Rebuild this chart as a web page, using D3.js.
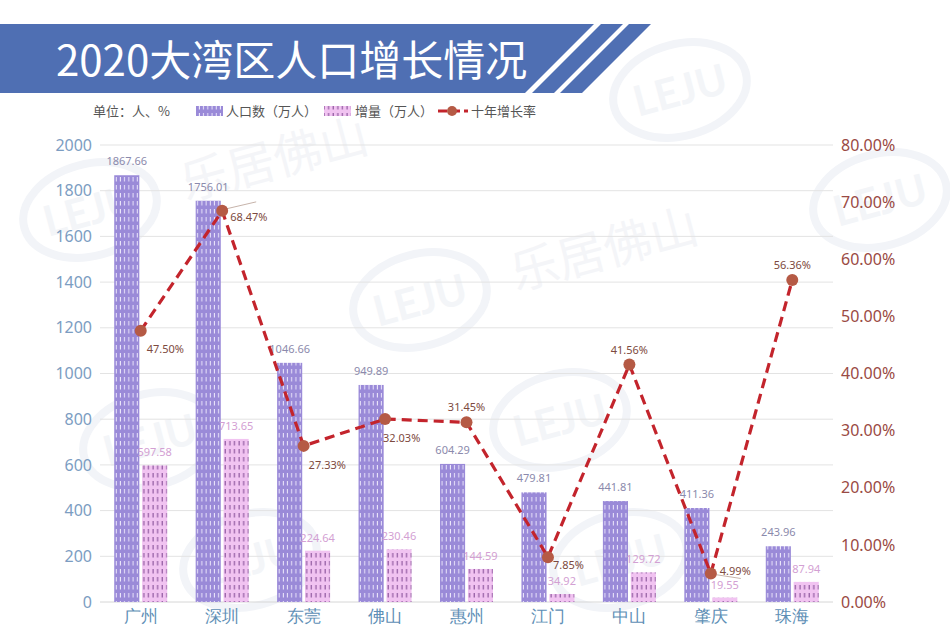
<!DOCTYPE html>
<html><head><meta charset="utf-8">
<script src="https://cdn.jsdelivr.net/npm/d3@7/dist/d3.min.js"></script>
<style>
html,body{margin:0;padding:0;background:#fff;}
svg{display:block;font-family:"Noto Sans CJK SC","Noto Sans",sans-serif;}
</style></head>
<body>
<svg id="chart" width="950" height="642"></svg>
<script>
const categories = ["广州","深圳","东莞","佛山","惠州","江门","中山","肇庆","珠海"];
const population = [1867.66,1756.01,1046.66,949.89,604.29,479.81,441.81,411.36,243.96];
const increase = [597.58,713.65,224.64,230.46,144.59,34.92,129.72,19.55,87.94];
const growthRate = [47.50,68.47,27.33,32.03,31.45,7.85,41.56,4.99,56.36];
const leftTicks = [0,200,400,600,800,1000,1200,1400,1600,1800,2000];
const rightTicks = [0,10,20,30,40,50,60,70,80];
// label placement for the rate labels: [dx, dy, anchor]
const rateLabelPos = [[6,18,"start"],[8,6,"start"],[5,19,"start"],[-2,19,"start"],[0,-15,"middle"],[5,8,"start"],[0,-15,"middle"],[9,-2,"start"],[0,-15,"middle"]];

const svg = d3.select("#chart");
const plot = {left:100, right:833, top:145, bottom:602};

// faint watermarks
const wm = svg.append("g").attr("fill","none");
const wmSpots = [[90,210,true],[420,300,true],[560,420,false],[250,560,false],[150,440,false],[680,90,false],[620,560,false],[880,200,false]];
wmSpots.forEach(([x,y,withText])=>{
  const g = wm.append("g").attr("transform",`translate(${x},${y}) rotate(-15)`);
  g.append("ellipse").attr("rx",68).attr("ry",46).attr("stroke","#f2f4f8").attr("stroke-width",8);
  g.append("text").attr("text-anchor","middle").attr("y",15).attr("font-size",42).attr("font-weight",700)
    .attr("fill","#f3f5f8").attr("font-family","Lato, sans-serif").text("LEJU");
  if (withText) g.append("text").attr("x",95).attr("y",16).attr("font-size",48).attr("fill","#f4f5f8").text("乐居佛山");
});

// title banner
const banner = svg.append("g");
banner.append("path").attr("d","M0,24 L594,24 L525,93 L0,93 Z").attr("fill","#4f6fb3");
banner.append("path").attr("d","M601,24 L623,24 L554,93 L532,93 Z").attr("fill","#4f6fb3");
banner.append("path").attr("d","M629,24 L651,24 L582,93 L560,93 Z").attr("fill","#4f6fb3");
banner.append("text").attr("x",56).attr("y",76).attr("fill","#fff").attr("font-size",42)
  .attr("font-family","'Noto Sans CJK SC', sans-serif").attr("font-weight",400)
  .text("2020大湾区人口增长情况");

// patterns
const defs = svg.append("defs");
const p1 = defs.append("pattern").attr("id","popPat").attr("patternUnits","userSpaceOnUse").attr("width",4.2).attr("height",8);
p1.append("rect").attr("width",4.2).attr("height",8).attr("fill","#9a8ad8");
p1.append("line").attr("x1",2).attr("x2",2).attr("y1",1).attr("y2",5.5).attr("stroke","#f4f0ff").attr("stroke-width",0.9);
const p2 = defs.append("pattern").attr("id","incPat").attr("patternUnits","userSpaceOnUse").attr("width",4.6).attr("height",8);
p2.append("rect").attr("width",4.6).attr("height",8).attr("fill","#f1c3f1");
p2.append("line").attr("x1",2).attr("x2",2).attr("y1",1).attr("y2",5.5).attr("stroke","#6a3080").attr("stroke-width",0.9);

// scales
const x0 = d3.scaleBand().domain(categories).range([plot.left, plot.right]).paddingInner(0).paddingOuter(0);
const x1 = d3.scaleBand().domain(["pop","inc"]).range([0,53]).paddingInner(0.1);
const yL = d3.scaleLinear().domain([0,2000]).range([plot.bottom, plot.top]);
const yR = d3.scaleLinear().domain([0,80]).range([plot.bottom, plot.top]);
const groupX = c => x0(c) + (x0.bandwidth()-53)/2;

// gridlines
svg.append("g").selectAll("line").data(leftTicks).join("line")
  .attr("x1",plot.left).attr("x2",plot.right)
  .attr("y1",d=>yL(d)).attr("y2",d=>yL(d))
  .attr("stroke",d=>d===0?"#d6d6d6":"#e3e3e3").attr("stroke-width",1);

// left axis
const axL = svg.append("g").attr("transform",`translate(${plot.left-6},0)`)
  .call(d3.axisLeft(yL).tickValues(leftTicks).tickSize(0).tickPadding(2).tickFormat(d3.format("d")));
axL.select(".domain").remove();
axL.selectAll("text").attr("fill","#7c9dc2").attr("font-size",16).attr("font-family","'Noto Sans',sans-serif");

// right axis
const axR = svg.append("g").attr("transform",`translate(${plot.right+8},0)`)
  .call(d3.axisRight(yR).tickValues(rightTicks).tickSize(0).tickPadding(0).tickFormat(d=>d.toFixed(2)+"%"));
axR.select(".domain").remove();
axR.selectAll("text").attr("fill","#9a4a44").attr("font-size",16).attr("font-family","'Noto Sans',sans-serif");

// bottom axis labels
const axB = svg.append("g").attr("transform",`translate(0,${plot.bottom})`)
  .call(d3.axisBottom(x0).tickSize(0).tickPadding(8));
axB.select(".domain").remove();
axB.selectAll("text").attr("fill","#5e8fb6").attr("font-size",17);

// bars
const groups = svg.append("g").selectAll("g").data(categories).join("g")
  .attr("transform",c=>`translate(${groupX(c)},0)`);
groups.append("rect").attr("x",x1("pop")).attr("width",x1.bandwidth())
  .attr("y",(c,i)=>yL(population[i])).attr("height",(c,i)=>yL(0)-yL(population[i]))
  .attr("fill","url(#popPat)");
groups.append("rect").attr("x",x1("inc")).attr("width",x1.bandwidth())
  .attr("y",(c,i)=>yL(increase[i])).attr("height",(c,i)=>yL(0)-yL(increase[i]))
  .attr("fill","url(#incPat)");
groups.append("text").attr("x",x1("pop")+x1.bandwidth()/2).attr("y",(c,i)=>yL(population[i])-10)
  .attr("text-anchor","middle").attr("font-size",11).attr("fill","#8b8aac").attr("font-family","'Noto Sans',sans-serif")
  .text((c,i)=>population[i].toFixed(2));
groups.append("text").attr("x",x1("inc")+x1.bandwidth()/2).attr("y",(c,i)=>yL(increase[i])-9)
  .attr("text-anchor","middle").attr("font-size",11).attr("fill","#d3a0d3").attr("font-family","'Noto Sans',sans-serif")
  .text((c,i)=>increase[i].toFixed(2));

// line
const cx = c => x0(c) + x0.bandwidth()/2;
const line = d3.line().x((d,i)=>cx(categories[i])).y(d=>yR(d));
svg.append("path").datum(growthRate).attr("d",line).attr("fill","none")
  .attr("stroke","#c3242c").attr("stroke-width",3.2).attr("stroke-dasharray","10,6");
// leader lines for two labels
svg.append("line").attr("x1",cx(categories[1])+4).attr("y1",yR(growthRate[1])-2)
  .attr("x2",cx(categories[1])+34).attr("y2",yR(growthRate[1])-9).attr("stroke","#a08070").attr("stroke-width",0.6);
svg.append("line").attr("x1",cx(categories[7])+4).attr("y1",yR(growthRate[7])+1)
  .attr("x2",cx(categories[7])+30).attr("y2",yR(growthRate[7])+5).attr("stroke","#a08070").attr("stroke-width",0.6);
svg.append("g").selectAll("circle").data(growthRate).join("circle")
  .attr("cx",(d,i)=>cx(categories[i])).attr("cy",d=>yR(d)).attr("r",6)
  .attr("fill","#b55a45");
svg.append("g").selectAll("text").data(growthRate).join("text")
  .attr("x",(d,i)=>cx(categories[i])+rateLabelPos[i][0]).attr("y",(d,i)=>yR(d)+rateLabelPos[i][1]+4)
  .attr("text-anchor",(d,i)=>rateLabelPos[i][2])
  .attr("font-size",11).attr("fill","#7d4a40").attr("font-family","'Noto Sans',sans-serif")
  .text(d=>d.toFixed(2)+"%");

// legend
const lg = svg.append("g").attr("font-size",13).attr("fill","#555");
lg.append("text").attr("x",93).attr("y",116).text("单位：人、%");
lg.append("rect").attr("x",196).attr("y",106).attr("width",27).attr("height",10).attr("fill","url(#popPat)");
lg.append("text").attr("x",226).attr("y",116).text("人口数（万人）");
lg.append("rect").attr("x",324).attr("y",106).attr("width",27).attr("height",10).attr("fill","url(#incPat)");
lg.append("text").attr("x",355).attr("y",116).text("增量（万人）");
lg.append("line").attr("x1",438).attr("x2",468).attr("y1",111).attr("y2",111).attr("stroke","#c3242c")
  .attr("stroke-width",3.2).attr("stroke-dasharray","9,4");
lg.append("circle").attr("cx",452).attr("cy",111).attr("r",5).attr("fill","#b55a45");
lg.append("text").attr("x",471).attr("y",116).text("十年增长率");
</script>
</body></html>
